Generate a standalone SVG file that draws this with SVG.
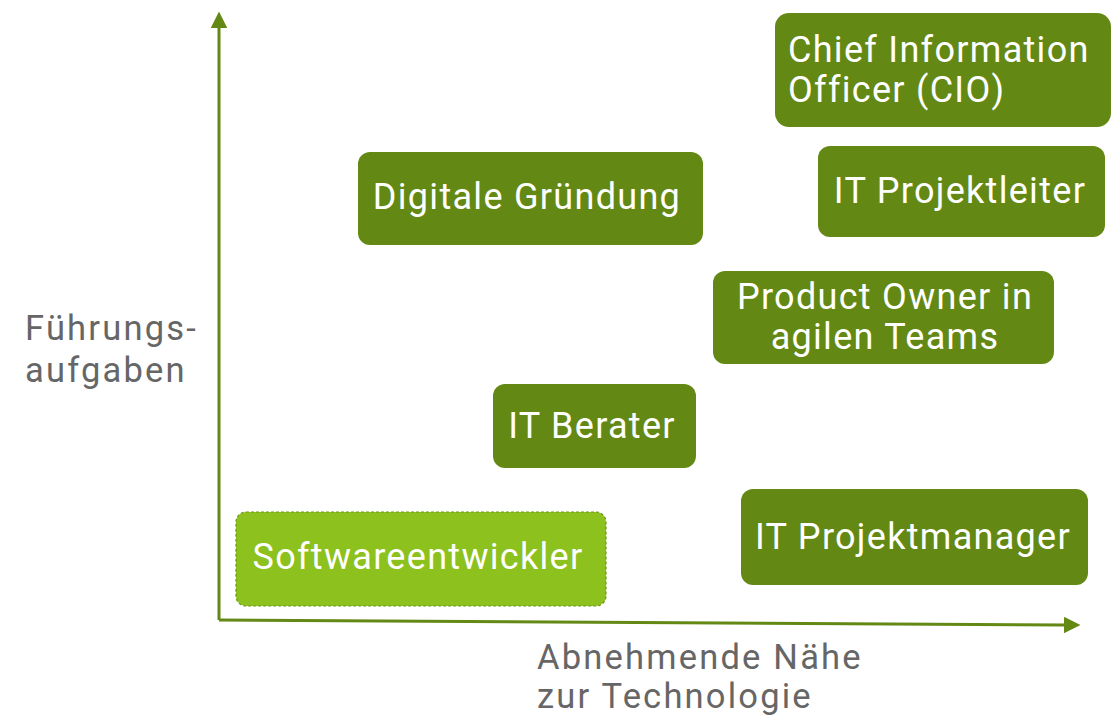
<svg xmlns="http://www.w3.org/2000/svg" width="1115" height="718" viewBox="0 0 1115 718">
  <defs>
    <style>
      .box { fill: #638914; }
      .lbl { font-family: Roboto, "Noto Sans", sans-serif; font-size: 36px; letter-spacing: 1.3px; fill: #ffffff; }
      .axis-lbl { font-family: Roboto, "Noto Sans", sans-serif; font-size: 34.5px; letter-spacing: 2.2px; fill: #666666; }
      .axis { stroke: #638914; stroke-width: 3; fill: none; }
    </style>
    <marker id="arrow" viewBox="0 0 10 10" refX="0" refY="5" markerWidth="5.5" markerHeight="5.5" orient="auto" markerUnits="strokeWidth">
      <path d="M0,0 L10,5 L0,10 Z" fill="#638914"/>
    </marker>
  </defs>
  <rect width="1115" height="718" fill="#ffffff"/>

  <!-- axes -->
  <g id="connectors">
    <path class="axis" d="M219,620 L219,28" marker-end="url(#arrow)"/>
    <path class="axis" d="M219,620 L1064,625" marker-end="url(#arrow)"/>
  </g>

  <g id="axis-y-label">
    <text class="axis-lbl" x="25" y="340">Führungs-</text>
    <text class="axis-lbl" x="25" y="382">aufgaben</text>
  </g>
  <g id="axis-x-label">
    <text class="axis-lbl" x="537" y="669">Abnehmende Nähe</text>
    <text class="axis-lbl" x="537" y="708">zur Technologie</text>
  </g>

  <g id="cio">
    <rect class="box" x="775" y="13" width="336" height="114" rx="14"/>
    <text class="lbl" x="788" y="62">Chief Information</text>
    <text class="lbl" x="788" y="102">Officer (CIO)</text>
  </g>
  <g id="digitale-gruendung">
    <rect class="box" x="358" y="152" width="345" height="93" rx="12"/>
    <text class="lbl" x="527" y="209" text-anchor="middle">Digitale Gründung</text>
  </g>
  <g id="it-projektleiter">
    <rect class="box" x="818" y="146" width="287" height="91" rx="12"/>
    <text class="lbl" x="960" y="203" text-anchor="middle">IT Projektleiter</text>
  </g>
  <g id="product-owner">
    <rect class="box" x="713" y="271" width="341" height="93" rx="12"/>
    <text class="lbl" x="885" y="309" text-anchor="middle">Product Owner in</text>
    <text class="lbl" x="885" y="349" text-anchor="middle">agilen Teams</text>
  </g>
  <g id="it-berater">
    <rect class="box" x="493" y="384" width="203" height="84" rx="12"/>
    <text class="lbl" x="592" y="438" text-anchor="middle">IT Berater</text>
  </g>
  <g id="it-projektmanager">
    <rect class="box" x="741" y="489" width="347" height="96" rx="12"/>
    <text class="lbl" x="913" y="549" text-anchor="middle">IT Projektmanager</text>
  </g>
  <g id="softwareentwickler">
    <rect x="236" y="512" width="370" height="94" rx="10" fill="#8cc11e" stroke="#6a9a12" stroke-width="1.2" stroke-dasharray="3,2"/>
    <text class="lbl" x="418" y="569" text-anchor="middle">Softwareentwickler</text>
  </g>
</svg>
